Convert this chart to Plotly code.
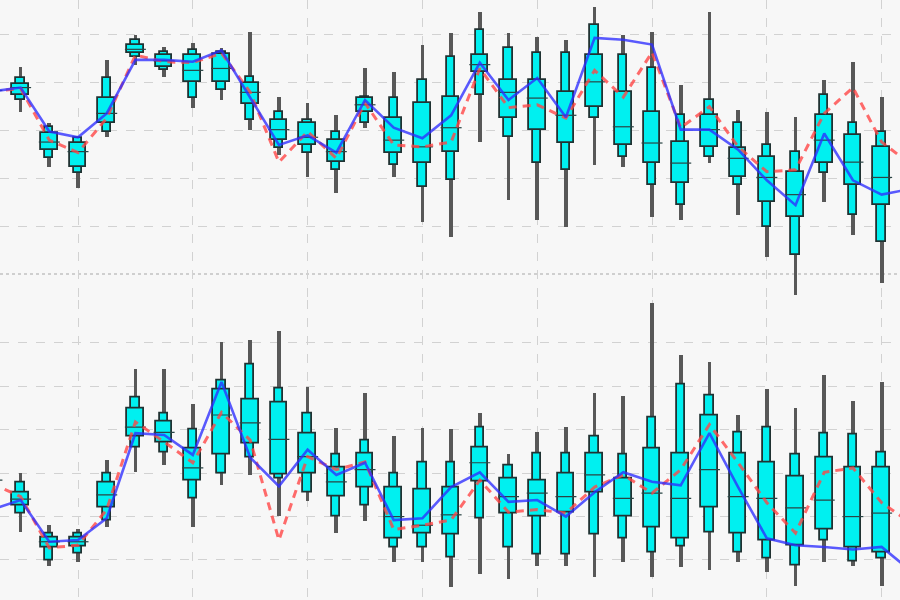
import plotly.graph_objects as go

# x positions (period index); boxes 1..32, lines 1..33
x_box = list(range(1, 33))
x_line = list(range(1, 34))

# ---------- top panel ----------
top_whisker_hi = [211,217,158,143,224,250,237,242,236,253,185,179,166,215,211,240,252,274,252,248,245,279,250,253,198,274,172,169,164,203,222,185]
top_whisker_lo = [172,169,112,90,143,219,206,174,182,151,124,101,85,153,101,54,39,138,77,56,49,114,112,60,56,116,62,18,-22,75,41,-9]
top_outer_hi = [203,205,154,142,205,245,232,234,232,206,169,161,149,185,184,203,227,255,236,231,231,260,229,215,166,182,158,135,128,187,158,149]
top_outer_lo = [182,182,121,106,149,227,213,184,192,161,132,127,109,158,114,91,98,187,143,116,109,163,122,93,72,122,93,49,20,106,62,33]
top_inner_hi = [199,199,147,137,184,240,229,229,230,200,161,158,140,184,163,179,185,229,203,203,190,229,190,169,138,166,132,122,107,166,145,133]
top_inner_lo = [186,187,130,112,158,231,217,201,201,178,140,135,117,169,127,116,128,211,163,151,137,175,135,116,95,133,101,75,60,116,93,72]
top_median = [192,195,138,128,168,235,223,213,215,190,151,143,128,177,140,133,153,219,190,184,166,201,154,137,116,151,121,101,83,140,117,101]
top_actual = [191,195,149,143,168,224,224,222,234,185,135,145,127,182,153,142,166,221,182,205,164,247,245,240,151,151,130,98,72,147,98,83,89]
top_forecast = [191,194,140,127,163,229,222,221,231,190,117,149,121,179,135,133,138,215,174,177,163,213,185,232,153,175,133,107,109,168,195,138,115]

# ---------- bottom panel ----------
bot_whisker_hi = [150,100,40,35,115,219,219,179,250,253,263,199,152,192,142,152,150,169,121,147,153,192,188,296,236,227,167,196,175,213,182,205]
bot_whisker_lo = [35,32,-8,-3,37,101,109,37,86,97,50,67,31,44,-3,-3,-32,-17,-23,-8,-8,-20,-3,-20,-9,-12,-3,-14,-31,-3,-8,-31]
bot_outer_hi = [127,89,31,31,100,187,169,150,207,225,198,169,121,138,100,112,112,153,109,123,123,142,121,164,202,190,147,153,121,146,144,124]
bot_outer_lo = [58,54,0,8,46,130,124,71,100,118,94,78,50,63,14,14,3,48,14,6,6,29,25,9,15,32,9,2,-6,23,-2,2]
bot_inner_hi = [113,78,26,26,89,175,159,129,196,185,181,146,107,123,84,81,84,130,94,92,100,123,94,129,123,167,123,112,96,118,106,107]
bot_inner_lo = [75,63,14,15,61,142,135,92,121,134,99,100,73,83,25,31,29,90,54,50,55,78,50,38,25,60,31,23,17,35,14,9]
bot_median = [92,70,21,21,75,153,147,106,167,158,139,119,90,104,50,40,52,112,73,77,73,98,71,77,71,104,73,71,60,69,50,54]
bot_actual = [58,69,21,23,48,146,144,121,205,118,85,127,98,112,46,48,84,101,67,69,50,78,101,90,86,146,84,25,17,15,12,15,-12]
bot_forecast = [88,73,14,17,58,159,136,112,170,138,23,119,104,113,35,40,46,92,55,58,54,84,98,77,104,156,112,66,31,101,106,66,43]

CYAN = "rgb(0,240,240)"
EDGE = "#203232"

fig = go.Figure()


def add_panel(xa, ya, whi, wlo, ohi, olo, ihi, ilo, med, actual, forecast):
    fig.add_trace(go.Bar(x=x_box, base=wlo, y=[h - l for h, l in zip(whi, wlo)], width=0.13,
                         marker=dict(color="#585858", line=dict(width=0)), xaxis=xa, yaxis=ya,
                         showlegend=False, hoverinfo="skip"))
    fig.add_trace(go.Bar(x=x_box, base=olo, y=[h - l for h, l in zip(ohi, olo)], width=0.29,
                         marker=dict(color=CYAN, line=dict(color=EDGE, width=1.8)), xaxis=xa, yaxis=ya,
                         showlegend=False, hoverinfo="skip"))
    fig.add_trace(go.Bar(x=x_box, base=ilo, y=[h - l for h, l in zip(ihi, ilo)], width=0.58,
                         marker=dict(color=CYAN, line=dict(color=EDGE, width=1.8)), xaxis=xa, yaxis=ya,
                         showlegend=False, hoverinfo="skip"))
    fig.add_trace(go.Scatter(x=x_box, y=med, mode="markers",
                             marker=dict(symbol="line-ew", size=15, line=dict(color="#2a4444", width=1.2)),
                             xaxis=xa, yaxis=ya, showlegend=False, hoverinfo="skip"))
    fig.add_trace(go.Scatter(x=x_line, y=forecast, mode="lines",
                             line=dict(color="rgba(255,70,70,0.8)", width=3, dash="8px,6px"),
                             xaxis=xa, yaxis=ya, showlegend=False, hoverinfo="skip"))
    fig.add_trace(go.Scatter(x=x_line, y=actual, mode="lines",
                             line=dict(color="rgba(45,45,255,0.78)", width=2.6),
                             xaxis=xa, yaxis=ya, showlegend=False, hoverinfo="skip"))


add_panel("x", "y", top_whisker_hi, top_whisker_lo, top_outer_hi, top_outer_lo,
          top_inner_hi, top_inner_lo, top_median, top_actual, top_forecast)
add_panel("x2", "y2", bot_whisker_hi, bot_whisker_lo, bot_outer_hi, bot_outer_lo,
          bot_inner_hi, bot_inner_lo, bot_median, bot_actual, bot_forecast)

GRID = "#d2d2d2"
xcommon = dict(range=[1.282, 32.64], tick0=0, dtick=4, showticklabels=False, ticks="",
               showgrid=True, gridcolor=GRID, griddash="dash", gridwidth=1.2,
               zeroline=False, showline=False)

fig.update_layout(
    width=900, height=600,
    margin=dict(l=0, r=0, t=0, b=0),
    paper_bgcolor="#f7f7f7", plot_bgcolor="#f7f7f7",
    barmode="overlay", bargap=0,
    showlegend=False,
    xaxis=dict(domain=[0, 1], anchor="y", **xcommon),
    xaxis2=dict(domain=[0, 1], anchor="y2", matches="x", **xcommon),
    yaxis=dict(domain=[0.5008, 1], anchor="x", range=[-26.7, 286.6],
               tickvals=[50, 100, 150, 200, 250], showticklabels=False, ticks="",
               showgrid=True, gridcolor=GRID, griddash="dash", gridwidth=1,
               zeroline=False, showline=False),
    yaxis2=dict(domain=[0, 0.4992], anchor="x2", range=[-46.1, 298.9],
                tick0=0, dtick=50, showticklabels=False, ticks="",
                showgrid=True, gridcolor=GRID, griddash="dash", gridwidth=1,
                zeroline=False, showline=False),
    shapes=[dict(type="line", xref="x domain", yref="y", x0=0, x1=1, y0=0, y1=0,
                 line=dict(color="#c2c2c2", width=1.5, dash="dot"), layer="below")],
)

fig.write_html("out.html")
